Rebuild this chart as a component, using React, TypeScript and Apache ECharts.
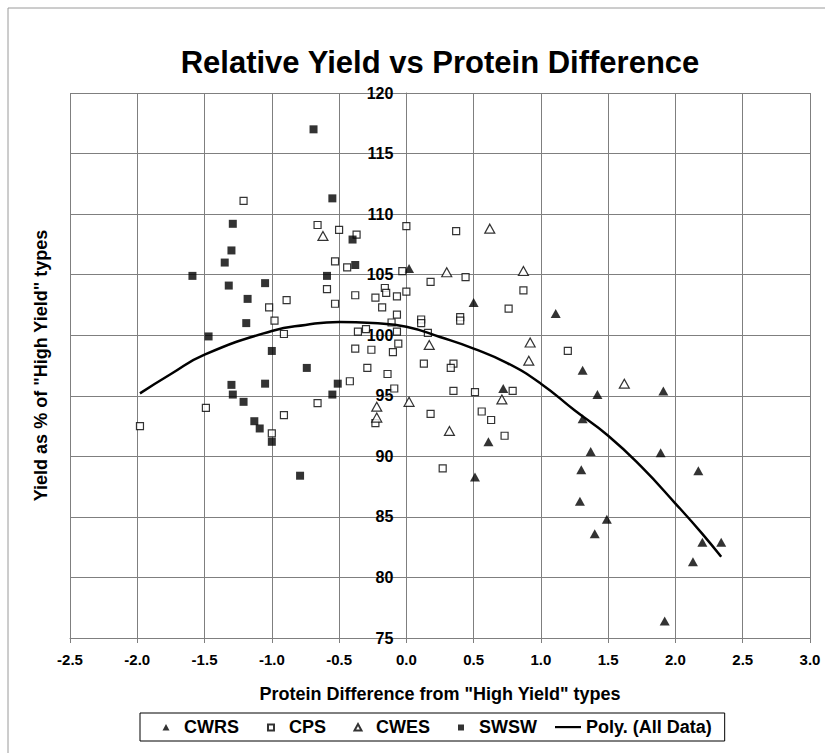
import React, { useEffect, useRef } from "react";
import * as echarts from "echarts";

const titleText = "Relative Yield vs Protein Difference";
const xAxisTitle = 'Protein Difference from "High Yield" types';
const yAxisTitle = 'Yield as % of "High Yield" types';

const X_MIN = -2.5;
const X_MAX = 3.0;
const Y_MIN = 75;
const Y_MAX = 120;

const CWRS: [number, number][] = [
  [0.02, 105.5], [0.5, 102.7], [0.51, 88.3], [0.61, 91.2], [0.72, 95.6],
  [1.11, 101.8], [1.29, 86.3], [1.3, 88.9], [1.31, 93.1], [1.31, 97.1],
  [1.37, 90.4], [1.4, 83.6], [1.42, 95.1], [1.49, 84.8], [1.89, 90.3],
  [1.91, 95.4], [1.92, 76.4], [2.13, 81.3], [2.17, 88.8], [2.2, 82.9],
  [2.34, 82.9],
];

const CPS: [number, number][] = [
  [-1.98, 92.5], [-1.49, 94.0], [-1.21, 111.1], [-1.02, 102.3], [-0.98, 101.2],
  [-0.91, 100.1], [-0.89, 102.9], [-0.91, 93.4], [-1.0, 91.9], [-0.66, 109.1],
  [-0.5, 108.7], [-0.37, 108.3], [0.0, 109.0], [0.37, 108.6], [-0.53, 106.1],
  [-0.44, 105.6], [-0.03, 105.3], [-0.59, 103.8], [-0.38, 103.3], [-0.16, 103.9],
  [-0.15, 103.5], [-0.23, 103.1], [-0.07, 103.2], [0.0, 103.6], [0.18, 104.4],
  [-0.53, 102.6], [-0.18, 102.3], [-0.07, 101.7], [-0.11, 101.05], [0.11, 101.3],
  [0.11, 101.0], [-0.36, 100.3], [-0.3, 100.5], [-0.07, 100.3], [0.16, 100.2],
  [-0.06, 99.3], [-0.38, 98.9], [-0.26, 98.8], [-0.1, 98.6], [-0.29, 97.3],
  [-0.14, 96.8], [0.13, 97.65], [0.35, 97.65], [0.33, 97.3], [0.4, 101.5],
  [0.4, 101.2], [-0.42, 96.2], [-0.09, 95.6], [0.35, 95.4], [-0.66, 94.4],
  [0.18, 93.5], [-0.23, 92.75], [0.27, 89.0], [0.44, 104.8], [0.87, 103.7],
  [0.76, 102.2], [1.2, 98.7], [0.51, 95.3], [0.79, 95.4], [0.56, 93.7],
  [0.63, 93.0], [0.73, 91.7],
];

const CWES: [number, number][] = [
  [-0.62, 108.2], [-0.22, 94.1], [-0.22, 93.2], [0.02, 94.5], [0.17, 99.2],
  [0.3, 105.2], [0.32, 92.1], [0.62, 108.8], [0.71, 94.7], [0.87, 105.3],
  [0.91, 97.9], [0.92, 99.4], [1.62, 96.0],
];

const SWSW: [number, number][] = [
  [-1.59, 104.9], [-1.47, 99.9], [-1.35, 106.0], [-1.32, 104.1], [-1.3, 107.0],
  [-1.29, 109.2], [-1.3, 95.9], [-1.29, 95.1], [-1.21, 94.5], [-1.19, 101.0],
  [-1.18, 103.0], [-1.13, 92.9], [-1.09, 92.3], [-1.05, 104.3], [-1.05, 96.0],
  [-1.0, 98.7], [-1.0, 91.2], [-0.79, 88.4], [-0.74, 97.3], [-0.69, 117.0],
  [-0.59, 104.9], [-0.55, 111.3], [-0.55, 95.1], [-0.51, 96.0], [-0.4, 107.9],
  [-0.38, 105.8],
];

// Trend line
const polyX = [-1.98, -1.75, -1.5, -1.0, -0.75, -0.5, -0.25, 0.0, 0.25, 0.5, 0.75, 1.0, 1.25, 1.5, 1.75, 2.0, 2.2, 2.34];
const polyY = [95.2, 96.8, 98.4, 100.35, 100.85, 101.1, 101.0, 100.7, 99.85, 98.9, 97.7, 96.0, 93.8, 91.7, 89.1, 86.1, 83.6, 81.7];

const FONT = "'Liberation Sans', Arial, Helvetica, sans-serif";

// legend icons: drawn inside a 26x8 box (the two leading moves fix the box)
const BOX = "M0,0M26,8";
const ICON_TRI = `path://${BOX}M9.5,7.5L13,1L16.5,7.5Z`;
const ICON_SQ = `path://${BOX}M10,1.5L16,1.5L16,7.5L10,7.5Z`;
const ICON_LINE = `path://${BOX}M0,3L26,3L26,5.2L0,5.2Z`;

const GRID_LEFT = 70;
const GRID_RIGHT = 15;
const CHART_W = 825;
const CHART_H = 753;

export default function App() {
  const ref = useRef<HTMLDivElement>(null);
  useEffect(() => {
    if (!ref.current) return;
    const chart = echarts.init(ref.current, null, { renderer: "svg" });
    const grid = "#7f7f7f";
    const gridW = CHART_W - GRID_LEFT - GRID_RIGHT;
    // put the y axis where x = 0
    const yAxisOffset = -(gridW * (0 - X_MIN)) / (X_MAX - X_MIN);
    chart.setOption({
      animation: false,
      backgroundColor: "#ffffff",
      textStyle: { fontFamily: FONT },
      grid: {
        left: GRID_LEFT,
        right: GRID_RIGHT,
        top: 93,
        bottom: 115,
        containLabel: false,
        outerBoundsMode: "none",
      },
      graphic: [
        {
          type: "rect",
          shape: { x: 8, y: 8, width: 1000, height: 1000 },
          style: { fill: "none", stroke: "#9a9a9a", lineWidth: 1 },
          silent: true,
        },
        {
          type: "text",
          x: 440,
          y: 62,
          style: {
            text: titleText,
            font: `bold 31px ${FONT}`,
            fill: "#000",
            textAlign: "center",
            textVerticalAlign: "middle",
          },
        },
      ],
      legend: {
        data: [
          { name: "CWRS", icon: ICON_TRI },
          { name: "CPS", icon: ICON_SQ },
          { name: "CWES", icon: ICON_TRI },
          { name: "SWSW", icon: ICON_SQ },
          { name: "Poly. (All Data)", icon: ICON_LINE },
        ],
        left: 140,
        top: 713,
        orient: "horizontal",
        itemWidth: 26,
        itemHeight: 8,
        itemGap: 18,
        padding: [5, 13],
        borderColor: "#000",
        borderWidth: 1,
        textStyle: { fontFamily: FONT, fontWeight: "bold", fontSize: 18, color: "#000" },
      },
      xAxis: {
        type: "value",
        min: X_MIN,
        max: X_MAX,
        interval: 0.5,
        name: xAxisTitle,
        nameLocation: "middle",
        nameGap: 47,
        nameTextStyle: { fontFamily: FONT, fontWeight: "bold", fontSize: 18, color: "#000" },
        axisLine: { onZero: false, lineStyle: { color: grid, width: 1 } },
        axisTick: { show: true, inside: false, length: 5, lineStyle: { color: grid } },
        axisLabel: {
          margin: 14,
          fontFamily: FONT,
          fontWeight: "bold",
          fontSize: 15,
          color: "#000",
          formatter: (v: number) => v.toFixed(1),
        },
        splitLine: { show: true, lineStyle: { color: grid, width: 1 } },
      },
      yAxis: {
        type: "value",
        min: Y_MIN,
        max: Y_MAX,
        interval: 5,
        offset: yAxisOffset,
        name: yAxisTitle,
        nameLocation: "middle",
        nameGap: 356,
        nameRotate: 90,
        nameTextStyle: { fontFamily: FONT, fontWeight: "bold", fontSize: 18, color: "#000" },
        axisLine: { show: true, onZero: false, lineStyle: { color: grid, width: 1 } },
        axisTick: { show: true, inside: false, length: 5, lineStyle: { color: grid } },
        axisLabel: { margin: 13, fontFamily: FONT, fontWeight: "bold", fontSize: 16, color: "#000" },
        splitLine: { show: true, lineStyle: { color: grid, width: 1 } },
      },
      series: [
        {
          name: "CWRS",
          type: "scatter",
          symbol: "triangle",
          symbolSize: [10, 9],
          itemStyle: { color: "#000" },
          data: CWRS,
          z: 3,
        },
        {
          name: "CPS",
          type: "scatter",
          symbol: "rect",
          symbolSize: 7,
          itemStyle: { color: "#fff", borderColor: "#000", borderWidth: 1.2 },
          data: CPS,
          z: 3,
        },
        {
          name: "CWES",
          type: "scatter",
          symbol: "triangle",
          symbolSize: [10, 9],
          itemStyle: { color: "#fff", borderColor: "#000", borderWidth: 1.2 },
          data: CWES,
          z: 3,
        },
        {
          name: "SWSW",
          type: "scatter",
          symbol: "rect",
          symbolSize: 8,
          itemStyle: { color: "#000" },
          data: SWSW,
          z: 3,
        },
        {
          name: "Poly. (All Data)",
          type: "line",
          symbol: "none",
          smooth: true,
          lineStyle: { color: "#000", width: 2.5 },
          itemStyle: { color: "#000" },
          data: polyX.map((x, i) => [x, polyY[i]]),
          z: 4,
        },
      ],
    });
    return () => chart.dispose();
  }, []);
  return (
    <div
      ref={ref}
      style={{ position: "fixed", left: 0, top: 0, width: CHART_W, height: CHART_H, background: "#fff" }}
    />
  );
}
